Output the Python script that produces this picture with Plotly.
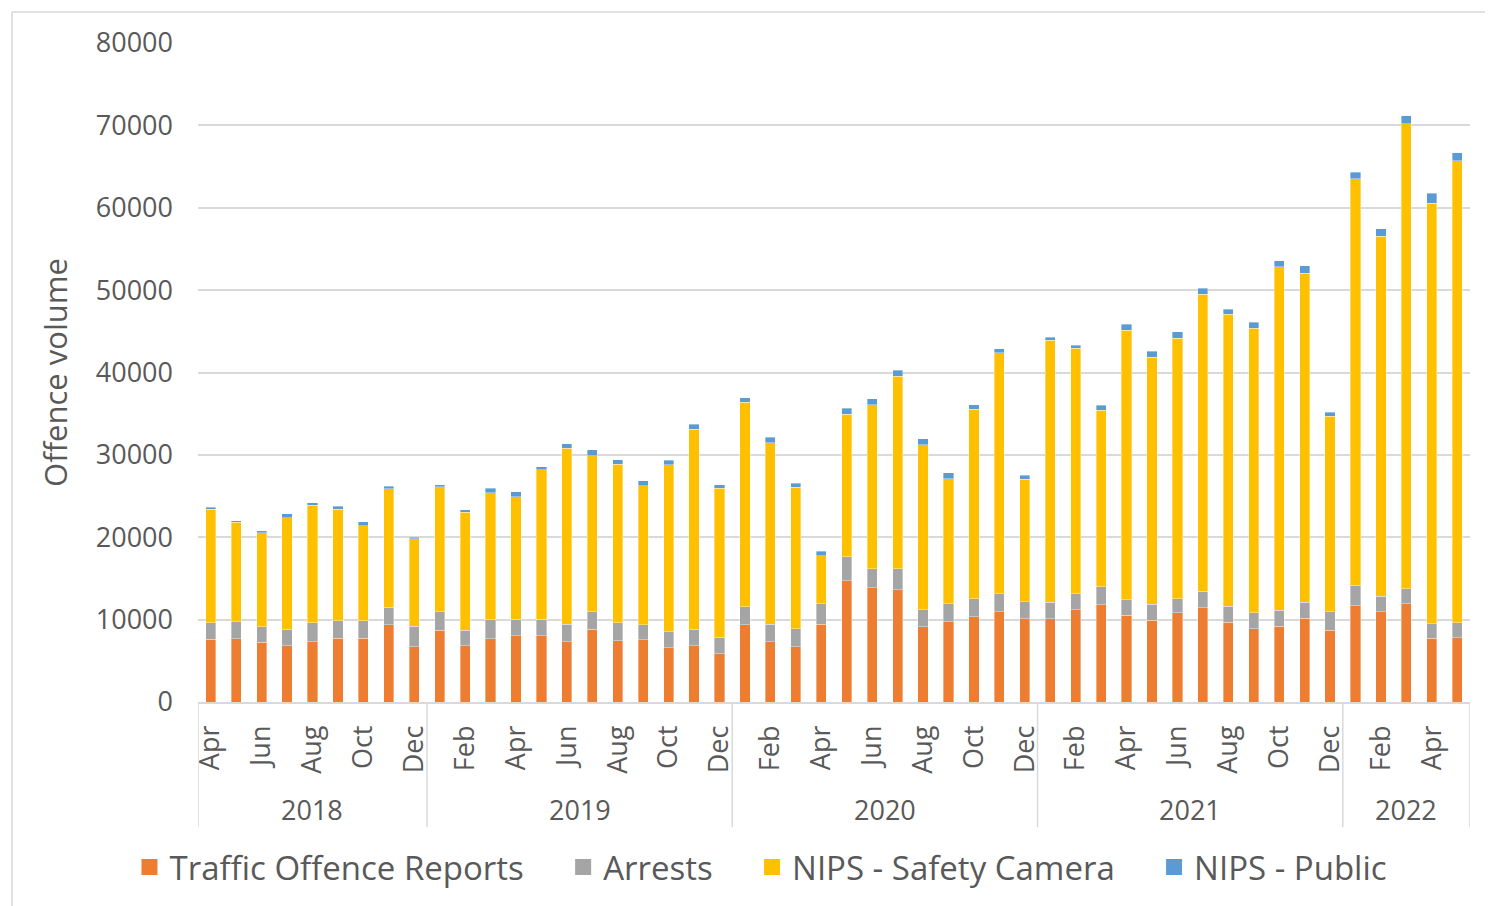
import plotly.graph_objects as go

# ---- Data ----
month_names = ["Jan", "Feb", "Mar", "Apr", "May", "Jun",
               "Jul", "Aug", "Sep", "Oct", "Nov", "Dec"]
years = [2018, 2019, 2020, 2021, 2022]
start_month = {2018: 4, 2019: 1, 2020: 1, 2021: 1, 2022: 1}
end_month = {2018: 12, 2019: 12, 2020: 12, 2021: 12, 2022: 5}

traffic_offence_reports = [
    7600, 7680, 7240, 6830, 7320, 7760, 7760, 9390, 6710,
    8740, 6840, 7690, 8020, 8020, 7330, 8830, 7450, 7530, 6560, 6800, 5830,
    9350, 7290, 6720, 9430, 14740, 13850, 13600, 9150, 9720, 10360, 10930, 10120,
    10110, 11170, 11810, 10520, 9950, 10840, 11450, 9710, 8900, 9220, 10150, 8740,
    11700, 10940, 11930, 7740, 7830,
]
arrests = [
    2030, 2040, 1910, 2030, 2310, 2120, 2080, 2110, 2480,
    2230, 1900, 2310, 2020, 2020, 2100, 2100, 2150, 1820, 1980, 2030, 2060,
    2190, 2140, 2190, 2470, 2870, 2300, 2590, 2060, 2180, 2190, 2230, 2070,
    2030, 1980, 2190, 1900, 1940, 1700, 1980, 1940, 1940, 1900, 1990, 2220,
    2450, 1890, 1800, 1740, 1790,
]
nips_safety_camera = [
    13740, 12110, 11380, 13500, 14230, 13490, 11580, 14390, 10610,
    15140, 14300, 15430, 14860, 18140, 21380, 18950, 19270, 16880, 20250, 24290, 18060,
    24820, 22070, 17160, 5870, 17330, 19960, 23360, 20000, 15190, 22960, 29240, 14850,
    31790, 29770, 21400, 32730, 29940, 31590, 36040, 35400, 34510, 41730, 39900, 23710,
    49390, 43730, 56460, 51090, 56090,
]
nips_public = [
    290, 200, 280, 490, 330, 370, 490, 330, 200,
    290, 280, 520, 600, 400, 530, 770, 520, 650, 560, 600, 410,
    560, 650, 490, 530, 730, 730, 730, 730, 760, 600, 500, 490,
    330, 410, 600, 680, 730, 810, 730, 640, 730, 730, 890, 480,
    800, 890, 990, 1180, 990,
]

series = [
    ("Traffic Offence Reports", traffic_offence_reports, "#ED7D31"),
    ("Arrests", arrests, "#A5A5A5"),
    ("NIPS - Safety Camera", nips_safety_camera, "#FFC000"),
    ("NIPS - Public", nips_public, "#5B9BD5"),
]

# ---- Category axis built from the period list ----
categories, month_of, year_of = [], [], []
for y in years:
    for m in range(start_month[y], end_month[y] + 1):
        categories.append(f"{y}-{m:02d}")
        month_of.append(month_names[m - 1])
        year_of.append(y)

tick_vals = categories[::2]
tick_text = month_of[::2]

fig = go.Figure()
for name, vals, color in series:
    fig.add_trace(go.Bar(
        x=categories, y=vals, name=name, showlegend=False,
        marker=dict(color=color, line=dict(color="rgba(255,255,255,0.45)", width=0.8)),
    ))
# legend proxies (larger square swatches); extra spacing after all but the last entry
pad = "\u00a0" * 4
for i, (name, vals, color) in enumerate(series):
    label = name + (pad if i < len(series) - 1 else "")
    fig.add_trace(go.Scatter(
        x=[None], y=[None], mode="markers", name=label,
        marker=dict(symbol="square", size=20, color=color),
    ))

# ---- Year group labels and dividers ----
grid = "#D9D9D9"
shapes, annotations = [], []
idx = 0
boundaries = [-0.5]
for y in years:
    n = sum(1 for v in year_of if v == y)
    centre = idx + (n - 1) / 2
    annotations.append(dict(
        x=centre, y=-0.1636, xref="x", yref="paper", text=str(y),
        showarrow=False, font=dict(size=27, color="#595959"), yanchor="middle",
    ))
    idx += n
    boundaries.append(idx - 0.5)
for b in boundaries:
    shapes.append(dict(type="line", xref="x", yref="paper", x0=b, x1=b,
                       y0=0, y1=-0.19, line=dict(color=grid, width=1.5)))
# chart-area border (left and top)
shapes.append(dict(type="line", xref="paper", yref="paper", x0=-0.1462, x1=-0.1462,
                   y0=1.047, y1=-0.32, line=dict(color=grid, width=1.5)))
shapes.append(dict(type="line", xref="paper", yref="paper", x0=-0.1462, x1=1.03,
                   y0=1.047, y1=1.047, line=dict(color=grid, width=1.5)))

fig.update_layout(
    barmode="stack",
    bargap=0.6,
    width=1485, height=898,
    margin=dict(l=190, r=23, t=35, b=203),
    paper_bgcolor="white", plot_bgcolor="white",
    font=dict(family="Segoe UI, Open Sans, sans-serif", color="#595959", size=27),
    shapes=shapes, annotations=annotations,
    legend=dict(orientation="h", x=0.4426, xanchor="center", y=-0.2485, yanchor="middle",
                font=dict(size=33, color="#595959"), itemwidth=30, traceorder="normal"),
)
fig.update_yaxes(
    range=[0, 80000], dtick=10000, tickformat="d",
    showgrid=True, gridcolor=grid, gridwidth=1.5, zeroline=False, showline=False,
    ticks="", ticklabelstandoff=24, tickfont=dict(size=27, color="#595959"),
    title=dict(text="Offence volume", font=dict(size=31, color="#595959"), standoff=18),
)
fig.update_xaxes(
    type="category", categoryorder="array", categoryarray=categories,
    tickmode="array", tickvals=tick_vals, ticktext=tick_text, tickangle=-90,
    showgrid=False, showline=True, linecolor=grid, linewidth=1.5, ticks="",
    ticklabelstandoff=11, tickfont=dict(size=27, color="#595959"),
    range=[-0.5, len(categories) - 0.5],
)

fig.write_html("out.html")
